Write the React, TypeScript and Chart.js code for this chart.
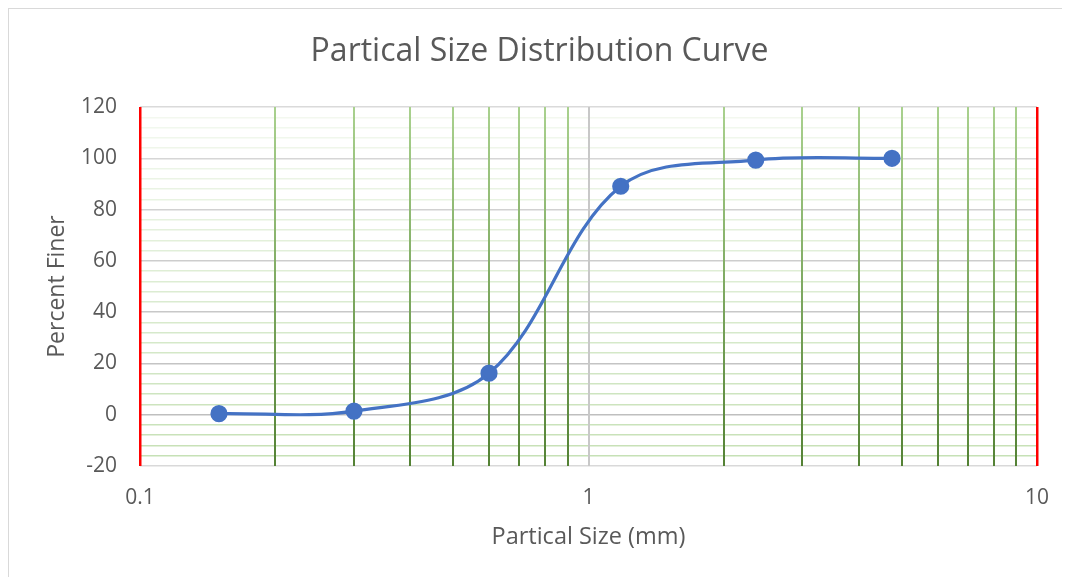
import React, { useEffect, useRef } from "react";
import { Chart, registerables } from "chart.js";

Chart.register(...registerables);

const sieveSizes = [0.15, 0.3, 0.6, 1.18, 2.36, 4.75];
const percentFiner = [0.4, 1.4, 16.2, 89.1, 99.3, 100];
const xGridValues = [0.1, 0.2, 0.3, 0.4, 0.5, 0.6, 0.7, 0.8, 0.9, 1, 2, 3, 4, 5, 6, 7, 8, 9, 10];
const xLabelValues = [0.1, 1, 10];
const yMin = -20;
const yMax = 120;
const yMinorStep = 4;
const yMajorStep = 20;

const titleText = "Partical Size Distribution Curve";
const xTitle = "Partical Size (mm)";
const yTitle = "Percent Finer";

const FONT = "'Open Sans', 'Noto Sans', sans-serif";
const TEXT = "#595959";

function hex(c: string) {
  const n = parseInt(c.slice(1), 16);
  return [(n >> 16) & 255, (n >> 8) & 255, n & 255];
}
function lerp(a: string, b: string, t: number) {
  const A = hex(a);
  const B = hex(b);
  const r = A.map((v, i) => Math.round(v + (B[i] - v) * t));
  return `rgb(${r[0]},${r[1]},${r[2]})`;
}

export default function App() {
  const ref = useRef<HTMLCanvasElement | null>(null);
  useEffect(() => {
    if (!ref.current) return;
    const chart = new Chart(ref.current, {
      type: "line",
      data: {
        datasets: [
          {
            data: sieveSizes.map((x, i) => ({ x, y: percentFiner[i] })),
            borderColor: "#4472C4",
            backgroundColor: "#4472C4",
            borderWidth: 3.2,
            pointRadius: 7,
            pointHoverRadius: 7,
            pointBackgroundColor: "#4472C4",
            pointBorderColor: "#4472C4",
            tension: 0.35,
            fill: false,
          },
        ],
      },
      options: {
        animation: false,
        responsive: false,
        events: [],
        layout: { padding: { left: 0, right: 0, top: 0, bottom: 0 } },
        plugins: {
          legend: { display: false },
          tooltip: { enabled: false },
          title: {
            display: true,
            text: titleText,
            color: TEXT,
            font: { family: FONT, size: 32, weight: "normal" },
            padding: { top: 24, bottom: 35.6 },
          },
        },
        scales: {
          x: {
            type: "logarithmic",
            min: 0.1,
            max: 10,
            border: { display: false },
            afterBuildTicks: (scale: any) => {
              scale.ticks = xGridValues.map((v) => ({ value: v }));
            },
            afterFit: (scale: any) => {
              scale.height = 111;
            },
            ticks: {
              autoSkip: false,
              maxRotation: 0,
              padding: 19,
              color: TEXT,
              font: { family: FONT, size: 21 },
              callback: (v: any) => (xLabelValues.includes(Number(v)) ? String(Number(v)) : ""),
            },
            grid: {
              z: -1,
              drawTicks: false,
              color: (ctx: any) => {
                const v = ctx.tick ? ctx.tick.value : 0;
                if (v === 0.1 || v === 10) return "#FF0000";
                if (v === 1) return "#C8C8C8";
                const area = ctx.chart.chartArea;
                if (!area) return "#7FAF5E";
                const g = ctx.chart.ctx.createLinearGradient(0, area.bottom, 0, area.top);
                g.addColorStop(0, "#548235");
                g.addColorStop(1, "#A9D18E");
                return g;
              },
              lineWidth: (ctx: any) => {
                const v = ctx.tick ? ctx.tick.value : 0;
                if (v === 0.1 || v === 10) return 2.5;
                return 2;
              },
            },
            title: {
              display: true,
              text: xTitle,
              color: TEXT,
              font: { family: FONT, size: 23.5 },
              padding: { top: 0, bottom: 26 },
            },
          },
          y: {
            min: yMin,
            max: yMax,
            border: { display: false },
            afterFit: (scale: any) => {
              scale.width = 131;
            },
            ticks: {
              stepSize: yMinorStep,
              autoSkip: false,
              padding: 23,
              color: TEXT,
              font: { family: FONT, size: 21 },
              callback: (v: any) => (Number(v) % yMajorStep === 0 ? String(v) : ""),
            },
            grid: {
              z: -2,
              drawTicks: false,
              color: (ctx: any) => {
                const v = ctx.tick ? ctx.tick.value : 0;
                const t = (v - yMin) / (yMax - yMin);
                if (v === yMin) return "#D9D9D9";
                if (v % yMajorStep === 0) return lerp("#BFBFBF", "#DADADA", Math.max(0, v) / yMax);
                return lerp("#C5E0B4", "#F4F9F1", t);
              },
              lineWidth: 1.5,
            },
            title: {
              display: true,
              text: yTitle,
              color: TEXT,
              font: { family: FONT, size: 23 },
              padding: { top: 35, bottom: 0 },
            },
          },
          yRightSpace: {
            position: "right",
            min: yMin,
            max: yMax,
            display: true,
            border: { display: false },
            grid: { display: false, drawTicks: false },
            ticks: { display: false },
            afterFit: (scale: any) => {
              scale.width = 33;
            },
          },
        },
      } as any,
    });
    return () => chart.destroy();
  }, []);

  return (
    <div
      style={{
        width: 1062,
        height: 569,
        boxSizing: "border-box",
        borderLeft: "1px solid #D9D9D9",
        borderTop: "1px solid #D9D9D9",
        overflow: "hidden",
      }}
    >
      <canvas ref={ref} width={1061} height={568} style={{ display: "block" }} />
    </div>
  );
}
